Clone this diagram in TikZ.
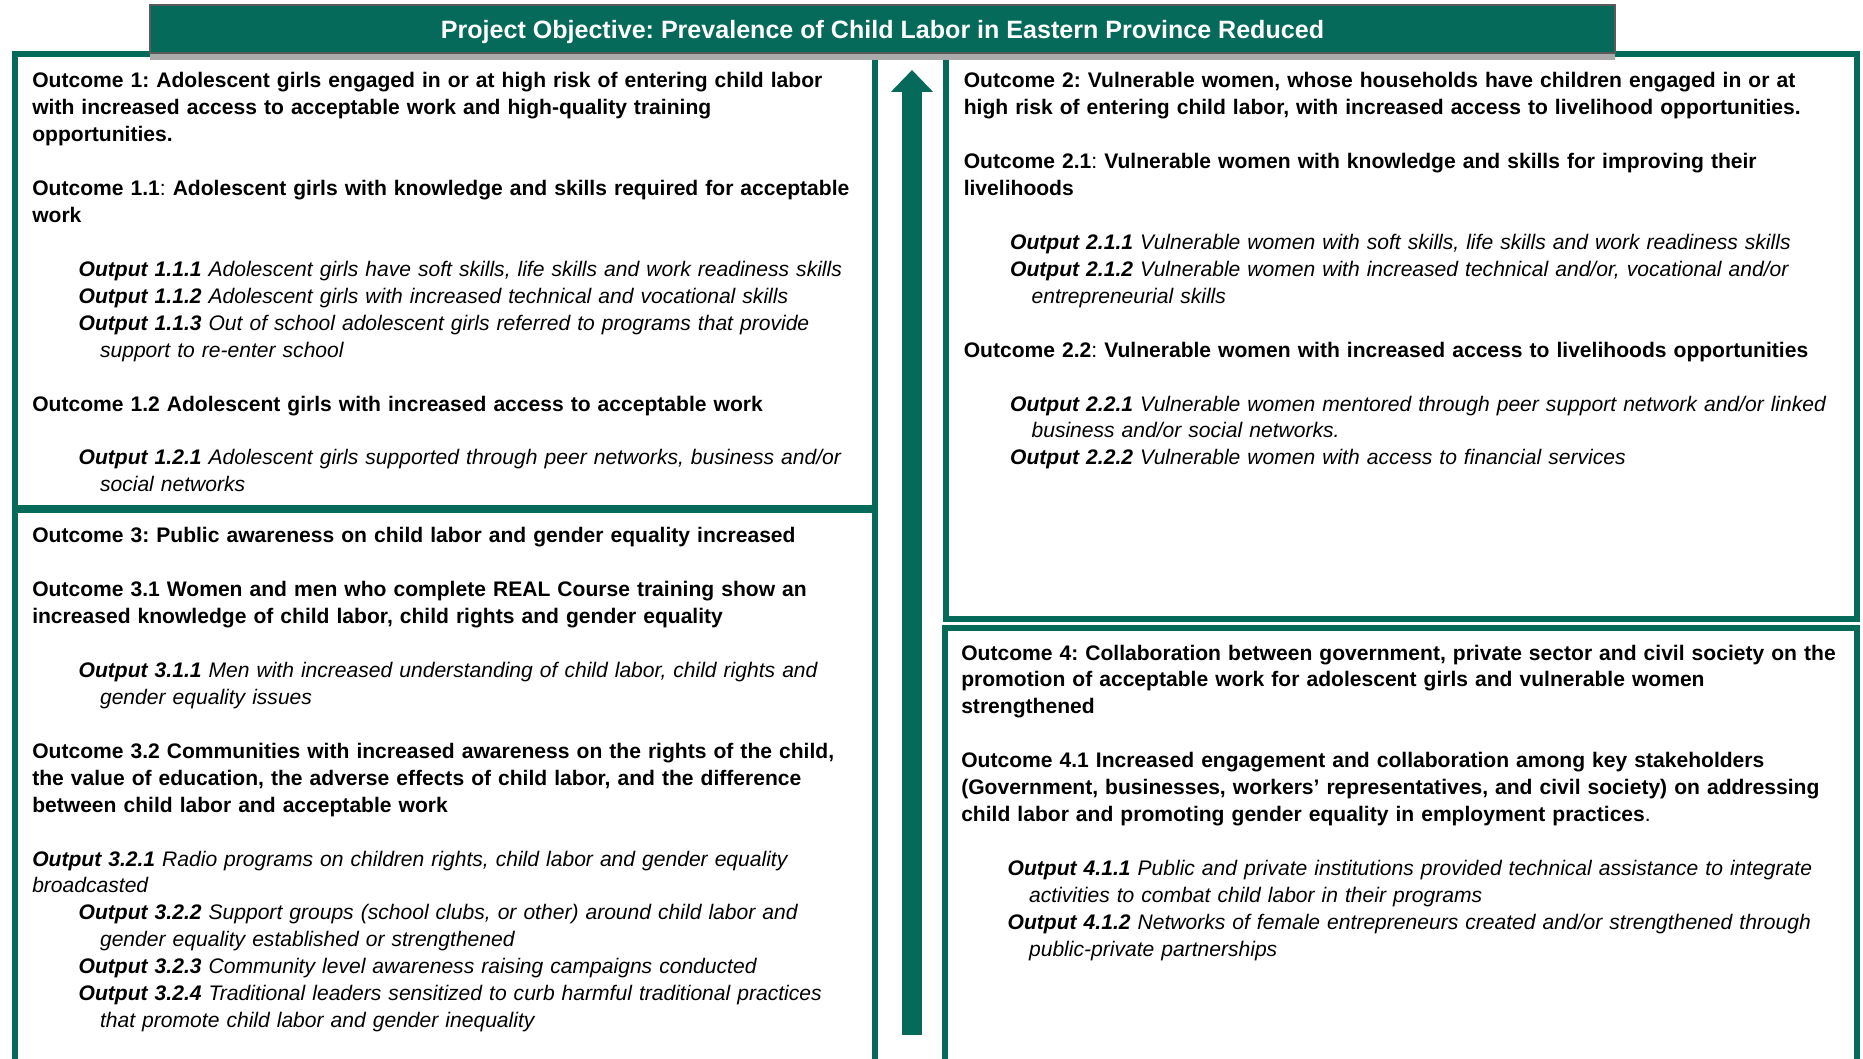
\documentclass[tikz,border=0pt]{standalone}
\usepackage{fontspec}
\setmainfont{Liberation Sans}
\usetikzlibrary{arrows.meta}
\frenchspacing

\definecolor{objgreen}{RGB}{6,106,90}
\definecolor{bargray}{RGB}{90,90,90}
\definecolor{shadowgray}{RGB}{170,170,170}

\newlength{\gapskip}\setlength{\gapskip}{20.22pt}
\newlength{\indA}\setlength{\indA}{34.8pt}
\newlength{\indB}\setlength{\indB}{50.85pt}
\newcommand{\outp}[3][\indA]{\hspace*{#1}{\bfseries\itshape Output #2} {\mdseries\itshape #3}}
\newcommand{\cont}[2][\indB]{\hspace*{#1}{\mdseries\itshape #2}}

\begin{document}
\begin{tikzpicture}[x=0.75pt,y=-0.75pt,
    outbox/.style={draw=objgreen,line width=4.5pt,fill=white},
    boxtext/.style={anchor=base west,inner sep=0pt,text width=#1,align=left,
      font=\fontsize{15.8pt}{20.22pt}\selectfont\bfseries}]
  \useasboundingbox (0,0) rectangle (1863,1059);

  % outcome boxes
  \draw[outbox] (15,54.5) rectangle (874.5,508);
  \draw[outbox] (15,510) rectangle (874.5,1062);
  \draw[outbox] (946,54.5) rectangle (1857,619);
  \draw[outbox] (944.5,628) rectangle (1857,1066);

  % objective bar
  \fill[shadowgray] (150,53) rectangle (1615,60);
  \node[draw=bargray,fill=objgreen,line width=1.2pt,inner sep=0pt,
        minimum width=1098.75pt,minimum height=36pt,text=white,
        text height=14.6pt,text depth=0pt,
        font=\fontsize{18.8pt}{22pt}\selectfont\bfseries] (objective) at (882.5,29)
        {Project Objective: Prevalence of Child Labor in Eastern Province Reduced};

  % arrow up to the objective
  \coordinate (arrowfoot) at (912,1035);
  \coordinate (arrowtip) at (912,70);
  \draw[objgreen,line width=15pt,-{Triangle[width=30.75pt,length=16.5pt]}] (arrowfoot) -- (arrowtip);

  \node[boxtext=640pt] (outcome1) at (32,87.5) {%
    Outcome 1: Adolescent girls engaged in or at high risk of entering child labor\\
    with increased access to acceptable work and high-quality training\\
    opportunities.\\[\gapskip]
    Outcome 1.1\textmd{:} Adolescent girls with knowledge and skills required for acceptable\\
    work\\[\gapskip]
    \outp{1.1.1}{Adolescent girls have soft skills, life skills and work readiness skills}\\
    \outp{1.1.2}{Adolescent girls with increased technical and vocational skills}\\
    \outp{1.1.3}{Out of school adolescent girls referred to programs that provide}\\
    \cont{support to re-enter school}\\[\gapskip]
    Outcome 1.2 Adolescent girls with increased access to acceptable work\\[\gapskip]
    \outp{1.2.1}{Adolescent girls supported through peer networks, business and/or}\\
    \cont{social networks}};

  \node[boxtext=640pt] (outcome3) at (32,542.5) {%
    Outcome 3: Public awareness on child labor and gender equality increased\\[\gapskip]
    Outcome 3.1 Women and men who complete REAL Course training show an\\
    increased knowledge of child labor, child rights and gender equality\\[\gapskip]
    \outp{3.1.1}{Men with increased understanding of child labor, child rights and}\\
    \cont{gender equality issues}\\[\gapskip]
    Outcome 3.2 Communities with increased awareness on the rights of the child,\\
    the value of education, the adverse effects of child labor, and the difference\\
    between child labor and acceptable work\\[\gapskip]
    \outp[0pt]{3.2.1}{Radio programs on children rights, child labor and gender equality}\\
    \cont[0pt]{broadcasted}\\
    \outp{3.2.2}{Support groups (school clubs, or other) around child labor and}\\
    \cont{gender equality established or strengthened}\\
    \outp{3.2.3}{Community level awareness raising campaigns conducted}\\
    \outp{3.2.4}{Traditional leaders sensitized to curb harmful traditional practices}\\
    \cont{that promote child labor and gender inequality}};

  \node[boxtext=680pt] (outcome2) at (963.5,87.5) {%
    Outcome 2: Vulnerable women, whose households have children engaged in or at\\
    high risk of entering child labor, with increased access to livelihood opportunities.\\[\gapskip]
    Outcome 2.1\textmd{:} Vulnerable women with knowledge and skills for improving their\\
    livelihoods\\[\gapskip]
    \outp{2.1.1}{Vulnerable women with soft skills, life skills and work readiness skills}\\
    \outp{2.1.2}{Vulnerable women with increased technical and/or, vocational and/or}\\
    \cont{entrepreneurial skills}\\[\gapskip]
    Outcome 2.2\textmd{:} Vulnerable women with increased access to livelihoods opportunities\\[\gapskip]
    \outp{2.2.1}{Vulnerable women mentored through peer support network and/or linked}\\
    \cont{business and/or social networks.}\\
    \outp{2.2.2}{Vulnerable women with access to financial services}};

  \node[boxtext=680pt] (outcome4) at (961,660) {%
    Outcome 4: Collaboration between government, private sector and civil society on the\\
    promotion of acceptable work for adolescent girls and vulnerable women\\
    strengthened\\[\gapskip]
    Outcome 4.1 Increased engagement and collaboration among key stakeholders\\
    (Government, businesses, workers’ representatives, and civil society) on addressing\\
    child labor and promoting gender equality in employment practices\textmd{.}\\[\gapskip]
    \outp{4.1.1}{Public and private institutions provided technical assistance to integrate}\\
    \cont{activities to combat child labor in their programs}\\
    \outp{4.1.2}{Networks of female entrepreneurs created and/or strengthened through}\\
    \cont{public-private partnerships}};
\end{tikzpicture}
\end{document}
